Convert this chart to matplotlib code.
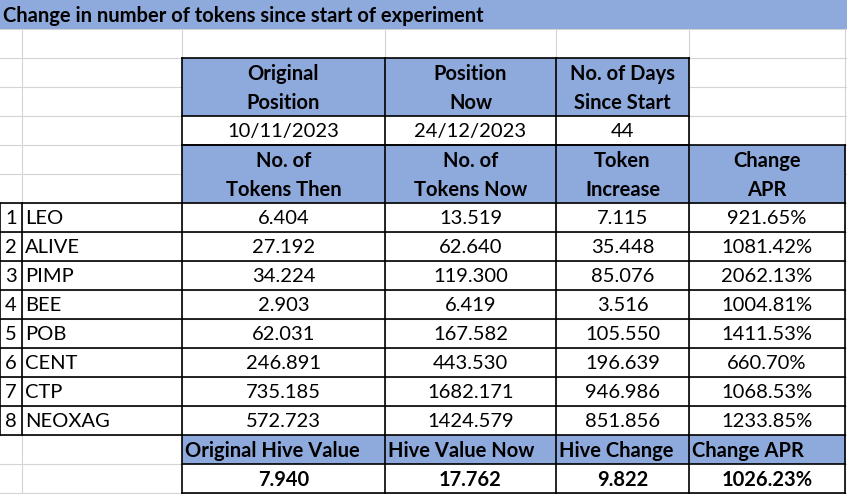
import matplotlib.pyplot as plt
from matplotlib.patches import Rectangle

plt.rcParams['font.family'] = ['Lato', 'DejaVu Sans']

title = 'Change in number of tokens since start of experiment'
top_headers = [['Original', 'Position'], ['Position', 'Now'], ['No. of Days', 'Since Start']]
top_values = ['10/11/2023', '24/12/2023', '44']
col_headers = [['No. of', 'Tokens Then'], ['No. of', 'Tokens Now'],
               ['Token', 'Increase'], ['Change', 'APR']]
tokens = ['LEO', 'ALIVE', 'PIMP', 'BEE', 'POB', 'CENT', 'CTP', 'NEOXAG']
tokens_then = [6.404, 27.192, 34.224, 2.903, 62.031, 246.891, 735.185, 572.723]
tokens_now = [13.519, 62.640, 119.300, 6.419, 167.582, 443.530, 1682.171, 1424.579]
token_increase = [7.115, 35.448, 85.076, 3.516, 105.550, 196.639, 946.986, 851.856]
change_apr = [921.65, 1081.42, 2062.13, 1004.81, 1411.53, 660.70, 1068.53, 1233.85]
summary_headers = ['Original Hive Value', 'Hive Value Now', 'Hive Change', 'Change APR']
hive_then = 7.940
hive_now = 17.762
hive_change = 9.822
hive_apr = 1026.23

blue = '#8EA9DB'
grey = '#D4D4D4'
fs = 14.5

# column edges and row height in pixels
xs = [0, 22, 182, 385, 556, 689, 845]
rh = 29
nrows = 17

fig = plt.figure(figsize=(8.47, 4.94), dpi=100)
ax = fig.add_axes([0, 0, 1, 1])
ax.set_xlim(0, 847)
ax.set_ylim(494, 0)
ax.axis('off')


def cx(c):
    return (xs[c] + xs[c + 1]) / 2


def cy(r):
    return r * rh + rh / 2 + 1


def box(c0, c1, r0, r1, color):
    ax.add_patch(Rectangle((xs[c0], r0 * rh), xs[c1] - xs[c0], (r1 - r0) * rh,
                           facecolor=color, edgecolor='none', zorder=1))


def hline(r, c0, c1, color='black', lw=1.2):
    ax.plot([xs[c0], xs[c1]], [r * rh, r * rh], color=color, lw=lw, zorder=3,
            solid_capstyle='projecting')


def vline(c, r0, r1, color='black', lw=1.2):
    ax.plot([xs[c], xs[c]], [r0 * rh, r1 * rh], color=color, lw=lw, zorder=3,
            solid_capstyle='projecting')


# faint sheet gridlines
for r in range(1, nrows + 1):
    ax.plot([0, 847], [r * rh, r * rh], color=grey, lw=0.8, zorder=0)
for c in range(1, 7):
    ax.plot([xs[c], xs[c]], [rh, nrows * rh], color=grey, lw=0.8, zorder=0)

# fills
ax.add_patch(Rectangle((0, 0), 847, rh, facecolor=blue, edgecolor='none', zorder=1))
box(2, 5, 2, 4, blue)
box(2, 5, 4, 5, 'white')
box(2, 6, 5, 7, blue)
box(2, 6, 15, 16, blue)
box(2, 6, 16, 17, 'white')

# black borders
for r in [2, 4, 5]:
    hline(r, 2, 5)
for c in [2, 3, 4, 5]:
    vline(c, 2, 5)
hline(5, 2, 6)
for c in [2, 3, 4, 5, 6]:
    vline(c, 5, 7)
for r in range(7, 16):
    hline(r, 0, 6)
for c in range(0, 7):
    vline(c, 7, 15)
for r in [16, 17]:
    hline(r, 2, 6)
for c in [2, 3, 4, 5, 6]:
    vline(c, 15, 17)

# text
ax.text(3, cy(0), title, fontsize=fs, fontweight='bold', ha='left', va='center', zorder=4)

for i, (a, b) in enumerate(top_headers):
    ax.text(cx(2 + i), cy(2), a, fontsize=fs, fontweight='bold', ha='center', va='center', zorder=4)
    ax.text(cx(2 + i), cy(3), b, fontsize=fs, fontweight='bold', ha='center', va='center', zorder=4)
    ax.text(cx(2 + i), cy(4), top_values[i], fontsize=fs, ha='center', va='center', zorder=4)

for i, (a, b) in enumerate(col_headers):
    ax.text(cx(2 + i), cy(5), a, fontsize=fs, fontweight='bold', ha='center', va='center', zorder=4)
    ax.text(cx(2 + i), cy(6), b, fontsize=fs, fontweight='bold', ha='center', va='center', zorder=4)

for i, name in enumerate(tokens):
    r = 7 + i
    ax.text(cx(0), cy(r), str(i + 1), fontsize=fs, ha='center', va='center', zorder=4)
    ax.text(xs[1] + 3, cy(r), name, fontsize=fs, ha='left', va='center', zorder=4)
    cells = [f'{tokens_then[i]:.3f}', f'{tokens_now[i]:.3f}',
             f'{token_increase[i]:.3f}', f'{change_apr[i]:.2f}%']
    for j, s in enumerate(cells):
        ax.text(cx(2 + j), cy(r), s, fontsize=fs, ha='center', va='center', zorder=4)

for j, s in enumerate(summary_headers):
    ax.text(xs[2 + j] + 3, cy(15), s, fontsize=fs, fontweight='bold', ha='left', va='center', zorder=4)
summary = [f'{hive_then:.3f}', f'{hive_now:.3f}', f'{hive_change:.3f}', f'{hive_apr:.2f}%']
for j, s in enumerate(summary):
    ax.text(cx(2 + j), cy(16), s, fontsize=fs, fontweight='bold', ha='center', va='center', zorder=4)

fig.savefig('out.png', dpi=100)
